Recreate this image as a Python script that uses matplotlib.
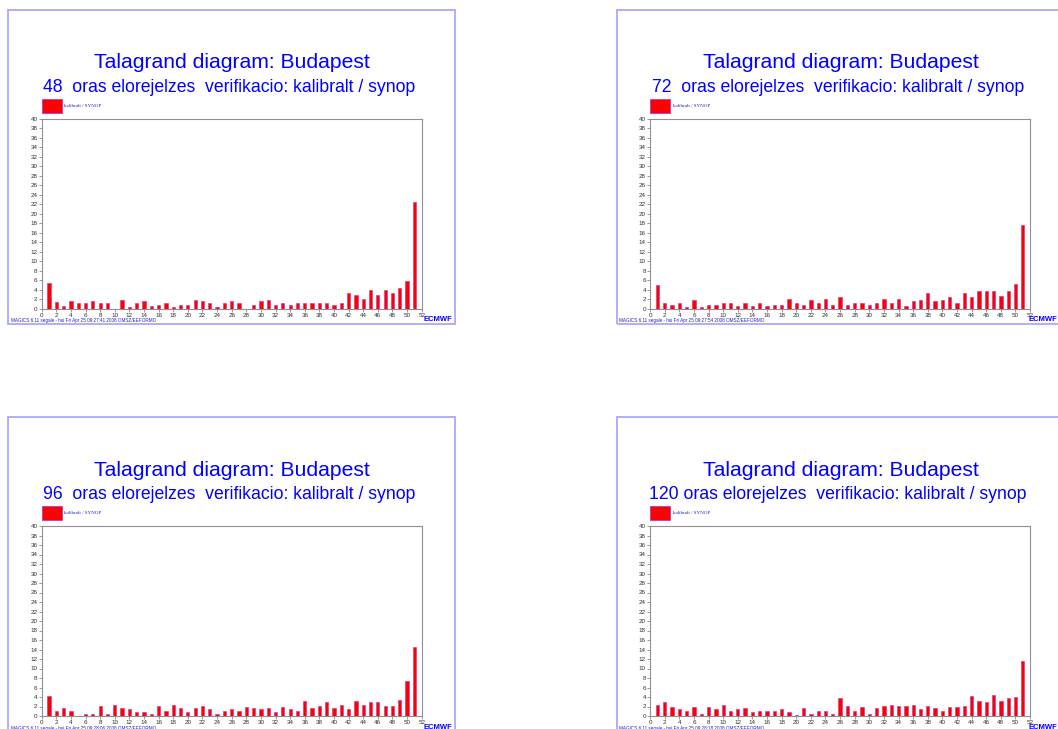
import matplotlib
matplotlib.use("Agg")
import matplotlib.pyplot as plt
from matplotlib.patches import Rectangle

plt.rcParams['font.family'] = ['Liberation Sans', 'DejaVu Sans']

W, H = 1058, 729

ranks = list(range(1, 52))

# rank histogram frequencies (%) per lead time
h48 = [5.4, 1.4, 0.5, 1.6, 1.1, 1.1, 1.6, 1.1, 1.3, 0.0,
       1.8, 0.3, 1.1, 1.6, 0.5, 0.8, 1.3, 0.3, 0.8, 0.8,
       1.8, 1.6, 1.1, 0.3, 1.1, 1.6, 1.1, 0.0, 0.8, 1.6,
       1.8, 0.8, 1.1, 0.8, 1.1, 1.1, 1.3, 1.3, 1.3, 0.8,
       1.1, 3.2, 2.9, 2.1, 3.9, 2.9, 3.9, 3.4, 4.4, 5.9,
       22.5]
h72 = [4.9, 1.1, 0.8, 1.1, 0.3, 1.8, 0.3, 0.8, 0.8, 1.1,
       1.1, 0.5, 1.1, 0.5, 1.3, 0.5, 0.8, 0.8, 2.1, 1.1,
       0.8, 1.8, 1.3, 2.1, 0.8, 2.4, 0.8, 1.3, 1.1, 0.8,
       1.3, 2.1, 1.3, 2.1, 0.5, 1.6, 1.8, 3.2, 1.6, 1.8,
       2.4, 1.3, 3.4, 2.4, 3.7, 3.7, 3.7, 2.6, 3.7, 5.2,
       17.6]
h96 = [4.2, 1.1, 1.6, 1.1, 0.0, 0.5, 0.5, 2.1, 0.5, 2.4,
       1.6, 1.4, 0.8, 0.8, 0.5, 2.1, 1.1, 2.4, 1.6, 0.8,
       1.6, 2.1, 1.4, 0.5, 1.1, 1.4, 1.1, 1.9, 1.6, 1.4,
       1.6, 0.8, 1.9, 1.4, 1.1, 3.2, 1.6, 2.1, 2.9, 1.6,
       2.4, 1.4, 3.2, 2.4, 2.9, 2.9, 2.1, 2.1, 3.4, 7.3,
       14.6]
h120 = [2.4, 2.9, 1.9, 1.4, 1.1, 1.9, 0.5, 1.9, 1.4, 2.4,
        1.1, 1.4, 1.6, 0.8, 1.1, 1.1, 1.1, 1.4, 0.8, 0.3,
        1.6, 0.5, 1.1, 1.1, 0.5, 3.7, 2.1, 1.1, 1.9, 0.5,
        1.6, 2.1, 2.4, 2.1, 2.1, 2.4, 1.4, 2.1, 1.6, 1.1,
        1.9, 1.9, 2.1, 4.2, 3.2, 2.9, 4.4, 3.2, 3.7, 3.9,
        11.5]

leads = ["48 ", "72 ", "96 ", "120"]
series = [h48, h72, h96, h120]
stamps = ["09:27:41", "09:27:54", "09:28:06", "09:28:18"]

BLUE = "#0000ff"
FRAME = "#a8a8ff"


def fx(x):
    return x / W


def fy(y):
    return 1 - y / H


fig = plt.figure(figsize=(W / 100, H / 100), dpi=100)


def draw_panel(ox, oy, lead, vals, stamp):
    # page frame
    fig.patches.append(Rectangle((fx(ox), fy(oy + 315)), 447 / W, 315 / H,
                                 transform=fig.transFigure, fill=False,
                                 edgecolor=FRAME, lw=1.3, zorder=0))
    fig.text(fx(ox + 224), fy(oy + 53.5), "Talagrand diagram: Budapest",
             ha="center", va="center", fontsize=15.2, color=BLUE)
    fig.text(fx(ox + 221), fy(oy + 77.5),
             f"{lead} oras elorejelzes  verifikacio: kalibralt / synop",
             ha="center", va="center", fontsize=12.7, color=BLUE)

    # legend
    fig.patches.append(Rectangle((fx(ox + 33.7), fy(oy + 103.5)), 20 / W, 14.3 / H,
                                 transform=fig.transFigure, facecolor="#ff0000",
                                 edgecolor="#b040c0", lw=0.6))
    fig.text(fx(ox + 56), fy(oy + 96.5), "kalibralt / SYNOP", ha="left",
             va="center", fontsize=3.6, color="#2020c0", family="Liberation Serif")

    ax = fig.add_axes([fx(ox + 33.4), fy(oy + 299.2), 380 / W, 190 / H])
    ax.bar(ranks, vals, width=0.45, color="#ff0000", edgecolor="#c030a0", lw=0.4)
    ax.set_xlim(0, 52)
    ax.set_ylim(0, 40)
    ax.set_xticks(range(0, 53, 2))
    ax.set_yticks(range(0, 41, 2))
    ax.tick_params(labelsize=4.5, length=2, width=0.5, pad=1,
                   color="#707070", labelcolor="#303030")
    for s in ax.spines.values():
        s.set_color("#909090")
        s.set_linewidth(0.8)

    fig.text(fx(ox + 2.7), fy(oy + 311.3), f"MAGICS 6.11 segale - hui Fri Apr 25 {stamp} 2008 OMSZ/EEFORMO",
             ha="left", va="center", fontsize=3.3, color="#2020c0")
    # logo text, kept inside the page
    fig.text(fx(min(ox + 443.5, W - 1)), fy(oy + 310.5), "ECMWF", ha="right", va="center",
             fontsize=5.5, fontweight="bold", color=BLUE)


origins = [(8.3, 9.5), (616.7, 9.5), (8.3, 416.8), (616.7, 416.8)]
for (ox, oy), lead, vals, stamp in zip(origins, leads, series, stamps):
    draw_panel(ox, oy, lead, vals, stamp)

fig.savefig("out.png", dpi=100)
